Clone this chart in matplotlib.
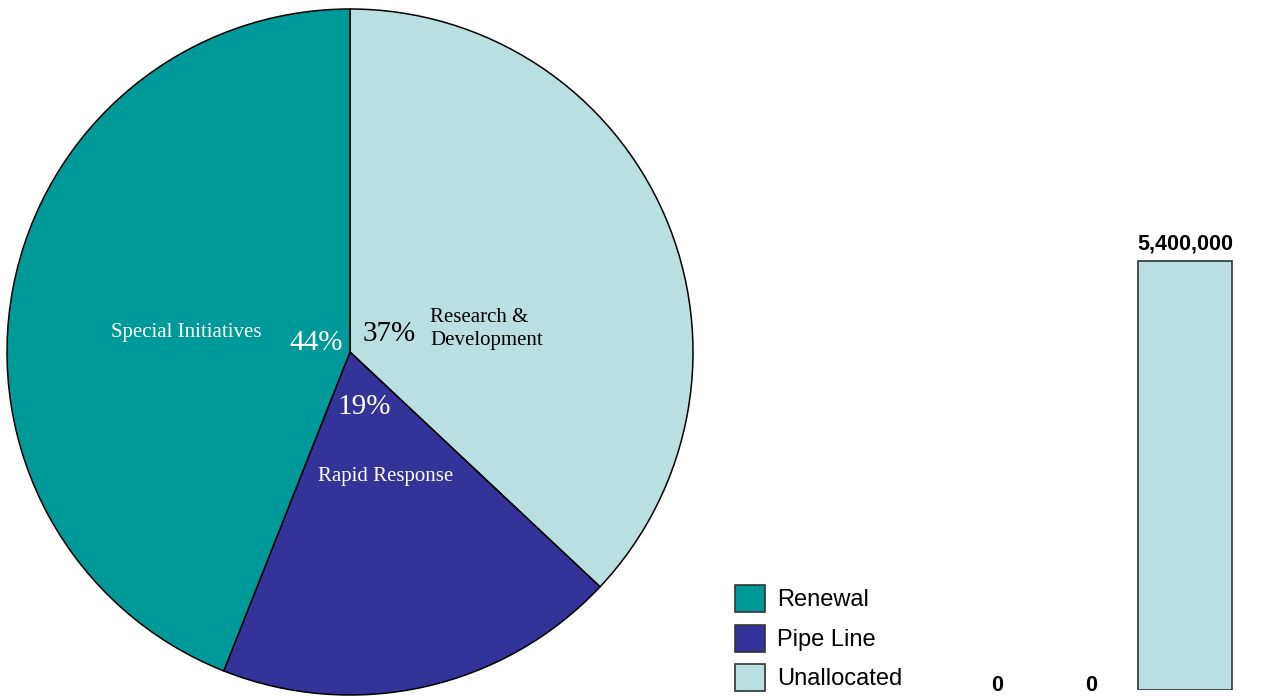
import matplotlib
matplotlib.use('Agg')
import matplotlib.pyplot as plt
from matplotlib.patches import Patch

# Pie data
pie_labels = ['Research &\nDevelopment', 'Rapid Response', 'Special Initiatives']
pie_pct = [37, 19, 44]
pie_colors = ['#B9DFE1', '#333399', '#009999']

# Bar data
bar_labels = ['Renewal', 'Pipe Line', 'Unallocated']
bar_values = [0, 0, 5400000]
bar_colors = ['#009999', '#333399', '#B9DFE1']

W, H = 1277, 698
fig = plt.figure(figsize=(W / 100, H / 100), dpi=100)

serif = ['Liberation Serif', 'DejaVu Serif']
sans = ['Liberation Sans', 'DejaVu Sans']

# ---- pie ----
cx, cy, r = 350, 352, 343
ax = fig.add_axes([(cx - r) / W, (H - cy - r) / H, 2 * r / W, 2 * r / H])
ax.pie(pie_pct, colors=pie_colors, startangle=90, counterclock=False,
       radius=1, wedgeprops=dict(edgecolor='black', linewidth=1.1))
ax.set_xlim(-1, 1)
ax.set_ylim(-1, 1)
ax.axis('off')


def px(x, y):
    return (x - cx) / r, (cy - y) / r


# percentages
ax.text(*px(389, 334), f'{pie_pct[0]}%', color='black', fontsize=21,
        family=serif, ha='center', va='center')
ax.text(*px(364, 407), f'{pie_pct[1]}%', color='white', fontsize=21,
        family=serif, ha='center', va='center')
ax.text(*px(316, 343), f'{pie_pct[2]}%', color='white', fontsize=21,
        family=serif, ha='center', va='center')
# category names
ax.text(*px(430, 329), pie_labels[0], color='black', fontsize=15,
        family=serif, ha='left', va='center', linespacing=1.3)
ax.text(*px(386, 477), pie_labels[1], color='white', fontsize=15,
        family=serif, ha='center', va='center')
ax.text(*px(186, 332), pie_labels[2], color='white', fontsize=15,
        family=serif, ha='center', va='center')

# ---- bars ----
x0, step, bottom_px = 997, 94, 690
left_px = x0 - 0.6 * step
bax = fig.add_axes([left_px / W, (H - bottom_px) / H, 3.2 * step / W, bottom_px / H])
xs = list(range(len(bar_values)))
bax.bar(xs, bar_values, width=1.0, color=bar_colors, edgecolor='#333333',
        linewidth=[1.2 if v else 0 for v in bar_values])
bax.set_xlim(-0.6, 2.6)
bax.set_ylim(0, 5400000 * bottom_px / 429)
bax.axis('off')
for x, v in zip(xs, bar_values):
    bax.annotate(f'{v:,}', (x, v), xytext=(0, 12 if v else 3),
                 textcoords='offset points', ha='center', va='center',
                 fontsize=15.5, fontweight='bold', family=sans)

handles = [Patch(facecolor=c, edgecolor='#333333', linewidth=1.2) for c in bar_colors]
fig.legend(handles, bar_labels, loc='lower left', bbox_to_anchor=(735 / W, 7 / H),
           frameon=False, borderpad=0, borderaxespad=0, handlelength=1.27,
           handleheight=1.38, handletextpad=0.5, labelspacing=0.53,
           prop=dict(family=sans, size=17))

fig.savefig('out.png', dpi=100)
